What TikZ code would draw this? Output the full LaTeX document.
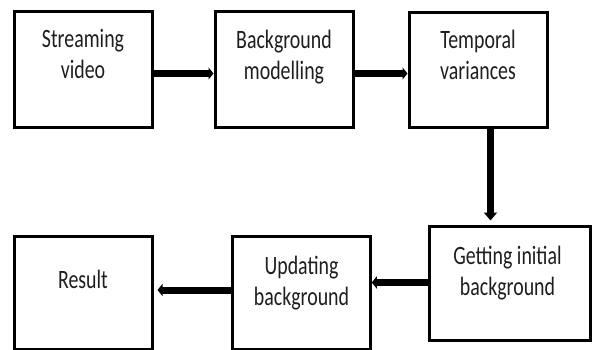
\documentclass[tikz,border=0pt]{standalone}
\usepackage{fontspec}
\setmainfont{Carlito}[FakeStretch=0.75]
\usetikzlibrary{arrows.meta}
\definecolor{ink}{HTML}{1E1E1E}
\tikzset{
  stagebox/.style={draw=black, line width=3pt, fill=white, rectangle, inner sep=0pt},
  stagetext/.style={anchor=north, inner sep=0pt, align=center, text=ink,
    font=\fontsize{26.5pt}{31pt}\selectfont},
  flow/.style={line width=7pt, draw=black,
    -{Triangle[width=12pt,length=5pt]}},
  flowdown/.style={line width=7pt, draw=black,
    -{Triangle[width=13pt,length=8pt]}}
}
\begin{document}
\begin{tikzpicture}[x=1pt,y=-1pt]
  \useasboundingbox (0,0) rectangle (592,349);
  % top row
  \node[stagebox, minimum width=138pt, minimum height=116pt] (b1) at (83,69) {};
  \node[stagebox, minimum width=138pt, minimum height=116pt] (b2) at (284,69) {};
  \node[stagebox, minimum width=138pt, minimum height=115pt] (b3) at (478,69.5) {};
  % bottom row
  \node[stagebox, minimum width=161pt, minimum height=114pt] (b4) at (509.5,283) {};
  \node[stagebox, minimum width=137.5pt, minimum height=113.5pt] (b5) at (301.5,292.75) {};
  \node[stagebox, minimum width=138pt, minimum height=113.5pt] (b6) at (83,292.75) {};
  % labels
  \node[stagetext] (t1) at ([yshift=-20pt]b1.north) {Streaming\\video};
  \node[stagetext] (t2) at ([yshift=-20pt]b2.north) {Background\\modelling};
  \node[stagetext] (t3) at ([yshift=-19pt]b3.north) {Temporal\\variances};
  \node[stagetext] (t4) at ([xshift=-2pt,yshift=-21pt]b4.north) {Getting initial\\background};
  \node[stagetext] (t5) at ([yshift=-21pt]b5.north) {Updating\\background};
  \node[stagetext] (t6) at ([yshift=-35pt]b6.north) {Result};
  % connectors
  \draw[flow] ([yshift=-4.5pt]b1.east) -- ([yshift=-4.5pt]b2.west);
  \draw[flow] ([yshift=-4.5pt]b2.east) -- ([yshift=-4pt]b3.west);
  \draw[flowdown, shorten >=4pt] ([xshift=12.5pt]b3.south) -- ([xshift=-19pt]b4.north);
  \draw[flow] ([yshift=0.5pt]b4.west) -- ([yshift=10.25pt]b5.east);
  \draw[flow, shorten >=4pt] ([yshift=2.75pt]b5.west) -- ([yshift=2.75pt]b6.east);
\end{tikzpicture}
\end{document}
